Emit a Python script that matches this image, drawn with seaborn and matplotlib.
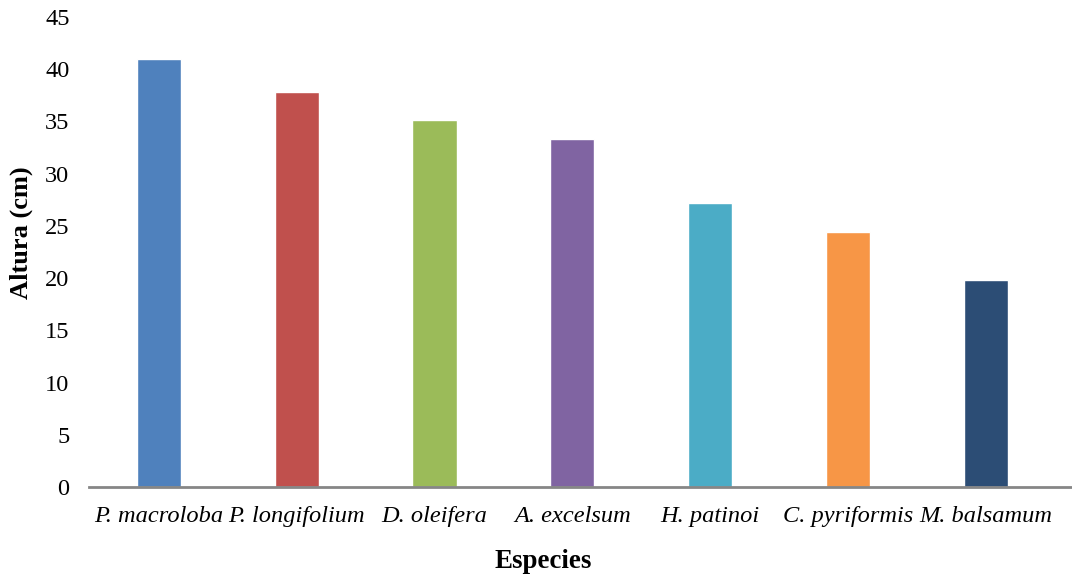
import matplotlib
matplotlib.use("Agg")
import matplotlib.pyplot as plt
import seaborn as sns
import pandas as pd

species = ["P. macroloba", "P. longifolium", "D. oleifera", "A. excelsum",
           "H. patinoi", "C. pyriformis", "M. balsamum"]
altura = [41.0, 37.8, 35.1, 33.3, 27.2, 24.4, 19.8]
colors = ["#4F81BD", "#C0504D", "#9BBB59", "#8064A2", "#4BACC6", "#F79646", "#2C4D75"]
yticks = [0, 5, 10, 15, 20, 25, 30, 35, 40, 45]

sns.set_theme(style="white")
plt.rcParams["font.family"] = ["Liberation Serif", "DejaVu Serif"]
plt.rcParams["text.color"] = "black"
plt.rcParams["axes.labelcolor"] = "black"
plt.rcParams["xtick.color"] = "black"
plt.rcParams["ytick.color"] = "black"

df = pd.DataFrame({"Especies": species, "Altura": altura})

fig = plt.figure(figsize=(10.72, 5.78), dpi=100)
ax = fig.add_axes([89/1072, 1 - 487/578, (1071 - 89)/1072, (487 - 17)/578])
sns.barplot(data=df, x="Especies", y="Altura", hue="Especies", palette=colors,
            width=0.32, legend=False, ax=ax, saturation=1)

ax.set_ylim(0, 45)
ax.set_xlim(-0.508, 6.62)
ax.set_yticks(yticks)
ax.set_yticklabels([str(t) for t in yticks], fontsize=17.6)
ax.tick_params(axis="y", length=0, pad=14)
ax.tick_params(axis="x", length=0, pad=14)
for lbl in ax.get_xticklabels():
    lbl.set_fontstyle("italic")
    lbl.set_fontsize(17.6)

for s in ["top", "right", "left"]:
    ax.spines[s].set_visible(False)
ax.spines["bottom"].set_color("#868686")
ax.spines["bottom"].set_linewidth(2)

ax.set_ylabel("Altura (cm)", fontsize=19, fontweight="bold")
ax.set_xlabel("Especies", fontsize=19.4, fontweight="bold", labelpad=18)
ax.yaxis.set_label_coords((33 - 89) / 982, (487 - 233) / 470)
ax.xaxis.set_label_coords((543 - 89) / 982, -(562 - 487) / 470)
ax.xaxis.label.set_verticalalignment("center")

fig.savefig("out.png", dpi=100)
